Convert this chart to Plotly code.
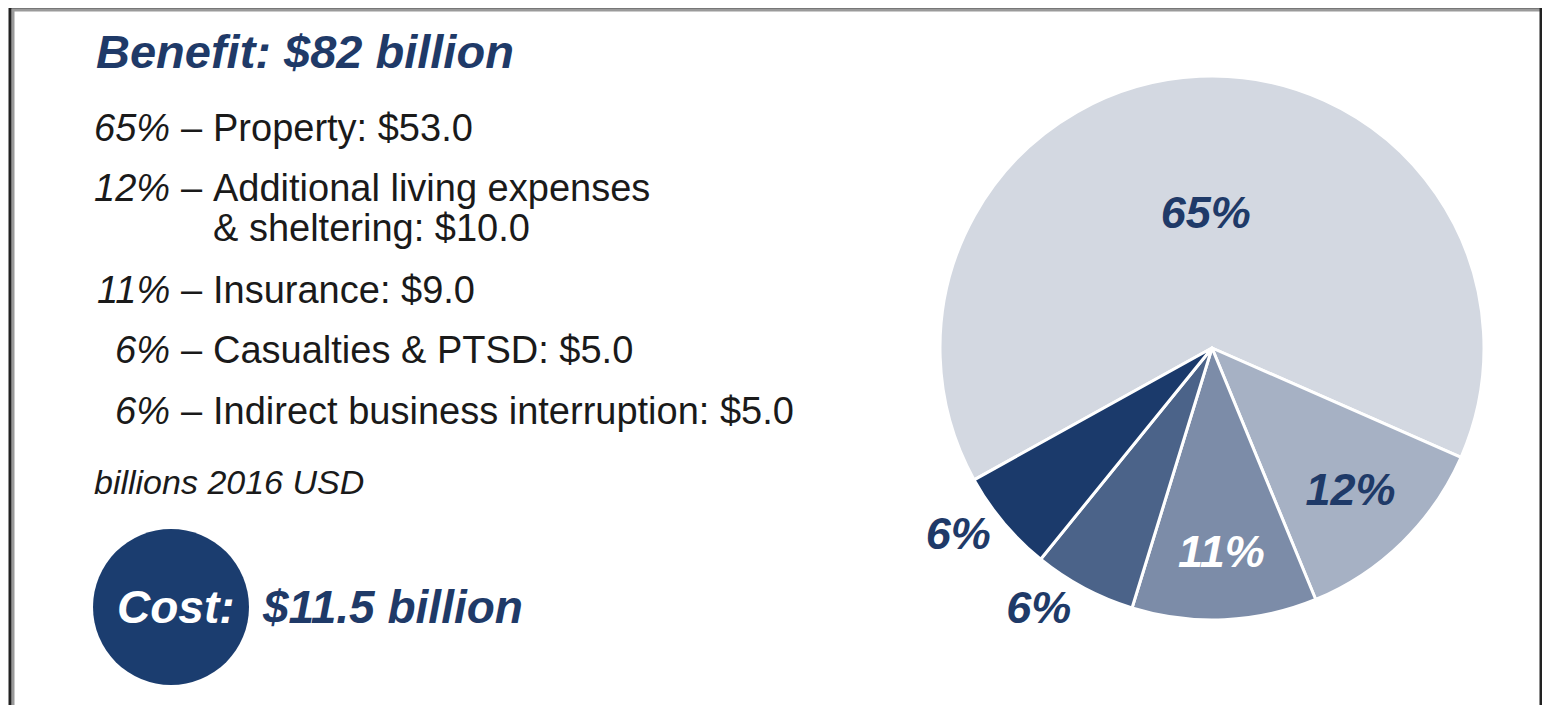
import plotly.graph_objects as go

# ---- data ----
categories = ["Property", "Additional living expenses & sheltering", "Insurance",
              "Casualties & PTSD", "Indirect business interruption"]
list_text = ["Property: $53.0", "Additional living expenses|& sheltering: $10.0",
             "Insurance: $9.0", "Casualties & PTSD: $5.0",
             "Indirect business interruption: $5.0"]
values = [53.0, 10.0, 9.0, 5.0, 5.0]
slice_colors = ["#D3D8E1", "#A6B1C4", "#7C8CA8", "#4B6389", "#1B3A6B"]
benefit_total = "$82 billion"
cost_total = "$11.5 billion"
unit_note = "billions 2016 USD"

NAVY = "#1F3A68"
OFF = 8                      # page body margin
W, H = 1550 - OFF, 705 - OFF
FONT = "Liberation Sans, Arial, sans-serif"


def px(x):
    return (x - OFF) / W


def py(y):
    return 1 - (y - OFF) / H


total = sum(values)
pcts = [round(v / total * 100) for v in values]

fig = go.Figure()

# pie centred at page (1212, 348) px with radius 272 px
cx, cy, r = 1212, 348, 272
fig.add_trace(go.Pie(
    labels=categories,
    values=values,
    sort=False,
    direction="clockwise",
    rotation=241,
    marker=dict(colors=slice_colors, line=dict(color="white", width=3)),
    texttemplate=[f"{p}%" for p in pcts],
    textinfo="text",
    textposition=["inside", "inside", "inside", "outside", "outside"],
    insidetextorientation="horizontal",
    textfont=dict(family=FONT, size=45, weight="bold", style="italic",
                  color=[NAVY, NAVY, "white", NAVY, NAVY]),
    outsidetextfont=dict(family=FONT, size=45, weight="bold", style="italic", color=NAVY),
    domain=dict(x=[px(cx - r), px(cx + r)], y=[py(cy + r), py(cy - r)]),
    hoverinfo="label+value+percent",
    showlegend=False,
))

TXT = "#1a1a1a"
annotations = []
# title
annotations.append(dict(x=px(94), y=py(52), xref="paper", yref="paper", xanchor="left",
                        yanchor="middle", showarrow=False,
                        text=f"<b><i>Benefit: {benefit_total}</i></b>",
                        font=dict(family=FONT, size=47, color=NAVY)))

row_y = [128, 188, 290, 350, 411]
for i, (p, t) in enumerate(zip(pcts, list_text)):
    y = row_y[i]
    annotations.append(dict(x=px(172), y=py(y), xref="paper", yref="paper", xanchor="right",
                            yanchor="middle", showarrow=False, text=f"<i>{p}%</i>",
                            font=dict(family=FONT, size=38, color=TXT)))
    annotations.append(dict(x=px(179), y=py(y), xref="paper", yref="paper", xanchor="left",
                            yanchor="middle", showarrow=False, text="–",
                            font=dict(family=FONT, size=38, color=TXT)))
    for j, part in enumerate(t.split("|")):
        annotations.append(dict(x=px(211), y=py(y + 40 * j), xref="paper", yref="paper",
                                xanchor="left", yanchor="middle", showarrow=False, text=part,
                                font=dict(family=FONT, size=38, color=TXT)))

annotations.append(dict(x=px(92), y=py(482), xref="paper", yref="paper", xanchor="left",
                        yanchor="middle", showarrow=False, text=f"<i>{unit_note}</i>",
                        font=dict(family=FONT, size=34, color=TXT)))

annotations.append(dict(x=px(176), y=py(607), xref="paper", yref="paper", xanchor="center",
                        yanchor="middle", showarrow=False, text="<b><i>Cost:</i></b>",
                        font=dict(family=FONT, size=46, color="white")))
annotations.append(dict(x=px(260), y=py(607), xref="paper", yref="paper", xanchor="left",
                        yanchor="middle", showarrow=False, text=f"<b><i>{cost_total}</i></b>",
                        font=dict(family=FONT, size=46, color=NAVY)))

shapes = [
    # border shadow
    dict(type="rect", xref="paper", yref="paper", x0=px(13), x1=px(1544), y0=py(730), y1=py(10),
         line=dict(color="#9a9a9a", width=3), fillcolor="rgba(0,0,0,0)", layer="below"),
    # border
    dict(type="rect", xref="paper", yref="paper", x0=px(10), x1=px(1541), y0=py(730), y1=py(7),
         line=dict(color="#222222", width=3), fillcolor="rgba(0,0,0,0)", layer="below"),
    # cost circle
    dict(type="circle", xref="paper", yref="paper", x0=px(93), x1=px(249), y0=py(685), y1=py(529),
         line=dict(width=0), fillcolor="#1B3D6F", layer="below"),
]

fig.update_layout(
    width=W, height=H,
    margin=dict(l=0, r=0, t=0, b=0),
    paper_bgcolor="white", plot_bgcolor="white",
    annotations=annotations,
    shapes=shapes,
    font=dict(family=FONT),
)

fig.write_html("out.html")
